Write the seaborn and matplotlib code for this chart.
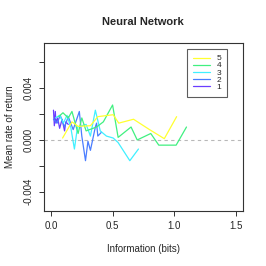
import numpy as np
import pandas as pd
import matplotlib
matplotlib.use("Agg")
import matplotlib.pyplot as plt
import seaborn as sns
from matplotlib.lines import Line2D

# information (bits) and mean rate of return per level
x1 = [0.02, 0.027, 0.035, 0.04, 0.054, 0.07, 0.09, 0.11, 0.12, 0.14]
y1 = [0.0023, 0.0011, 0.0022, 0.0013, 0.0017, 0.0009, 0.0016, 0.0007, 0.0014, 0.0012]

x2 = [0.02, 0.05, 0.075, 0.11, 0.14, 0.18, 0.23, 0.25, 0.28, 0.30, 0.32, 0.36, 0.37, 0.38, 0.41]
y2 = [0.0016, 0.0013, 0.0019, 0.0010, 0.0018, 0.0008, 0.0022, 0.0003, -0.0016, -0.0001,
      -0.0008, 0.0010, 0.0013, 0.0003, 0.0006]

x3 = [0.035, 0.07, 0.10, 0.13, 0.16, 0.19, 0.215, 0.285, 0.32, 0.36, 0.40, 0.45, 0.505,
      0.545, 0.64, 0.71]
y3 = [0.0017, 0.0019, 0.0013, 0.0019, 0.0010, -0.0007, 0.0010, 0.0012, 0.0003, 0.0023,
      0.0007, 0.0003, 0.00015, -0.0002, -0.0016, -0.0007]

x4 = [0.062, 0.097, 0.14, 0.17, 0.22, 0.25, 0.285, 0.37, 0.425, 0.50, 0.545, 0.65, 0.70,
      0.81, 0.875, 1.016, 1.10]
y4 = [0.0018, 0.0021, 0.0017, 0.0022, 0.0005, 0.0017, 0.0007, 0.0010, 0.0014, 0.0027,
      0.0002, 0.0010, 0.0000, 0.0005, -0.0004, -0.0004, 0.0010]

x5 = [0.094, 0.17, 0.22, 0.32, 0.38, 0.505, 0.55, 0.67, 0.80, 0.92, 1.02]
y5 = [0.00015, 0.0014, 0.00105, 0.0011, 0.0018, 0.00195, 0.0013, 0.0016, 0.0008, 0.0001, 0.0018]

levels = ["1", "2", "3", "4", "5"]
colors = ["#6a3dff", "#4a7dff", "#40f0ff", "#40f080", "#ffff30"]

frames = []
for lev, xs, ys in zip(levels, [x1, x2, x3, x4, x5], [y1, y2, y3, y4, y5]):
    frames.append(pd.DataFrame({"info": xs, "ret": ys, "level": lev, "order": range(len(xs))}))
df = pd.concat(frames, ignore_index=True)

sns.set_style("white")
plt.rcParams["font.family"] = ["Liberation Sans", "DejaVu Sans"]

fig = plt.figure(figsize=(2.66, 2.66), dpi=100)
ax = fig.add_axes([0.164, 0.207, 0.75, 0.631])

ax.axhline(0, color="#b8b8b8", lw=0.8, ls=(0, (3, 3)), zorder=1)
sns.lineplot(data=df, x="info", y="ret", hue="level", hue_order=levels,
             palette=dict(zip(levels, colors)), sort=False, estimator=None,
             lw=0.9, legend=False, ax=ax, zorder=2)

ax.set_xlim(-0.06, 1.56)
ax.set_ylim(-0.00548, 0.00748)
ax.set_xticks([0.0, 0.5, 1.0, 1.5])
ax.set_xticklabels(["0.0", "0.5", "1.0", "1.5"])
yt = [-0.004, -0.002, 0.0, 0.002, 0.004, 0.006]
ax.set_yticks(yt)
ax.set_yticklabels(["-0.004", "", "0.000", "", "0.004", ""], rotation=90, va="center")
ax.tick_params(axis="both", direction="out", length=3.5, width=0.7, color="#333333",
               labelsize=7, pad=4, left=True, bottom=True)
for sp in ax.spines.values():
    sp.set_color("#333333")
    sp.set_linewidth(0.8)

ax.set_xlabel("Information (bits)", fontsize=7, labelpad=9)
ax.set_ylabel("Mean rate of return", fontsize=7, labelpad=6)
ax.set_title("Neural Network", fontsize=8, fontweight="bold", pad=13)

handles = [Line2D([], [], color=c, lw=0.9) for c in colors[::-1]]
leg = ax.legend(handles, levels[::-1], loc="upper right", bbox_to_anchor=(0.92, 0.964),
                fontsize=6, frameon=True, fancybox=False, handlelength=2.0,
                handleheight=0.5, labelspacing=-0.02, borderpad=0.7, handletextpad=0.8,
                borderaxespad=0)
leg.get_frame().set_edgecolor("#333333")
leg.get_frame().set_linewidth(0.8)

fig.savefig("out.png", dpi=100)
